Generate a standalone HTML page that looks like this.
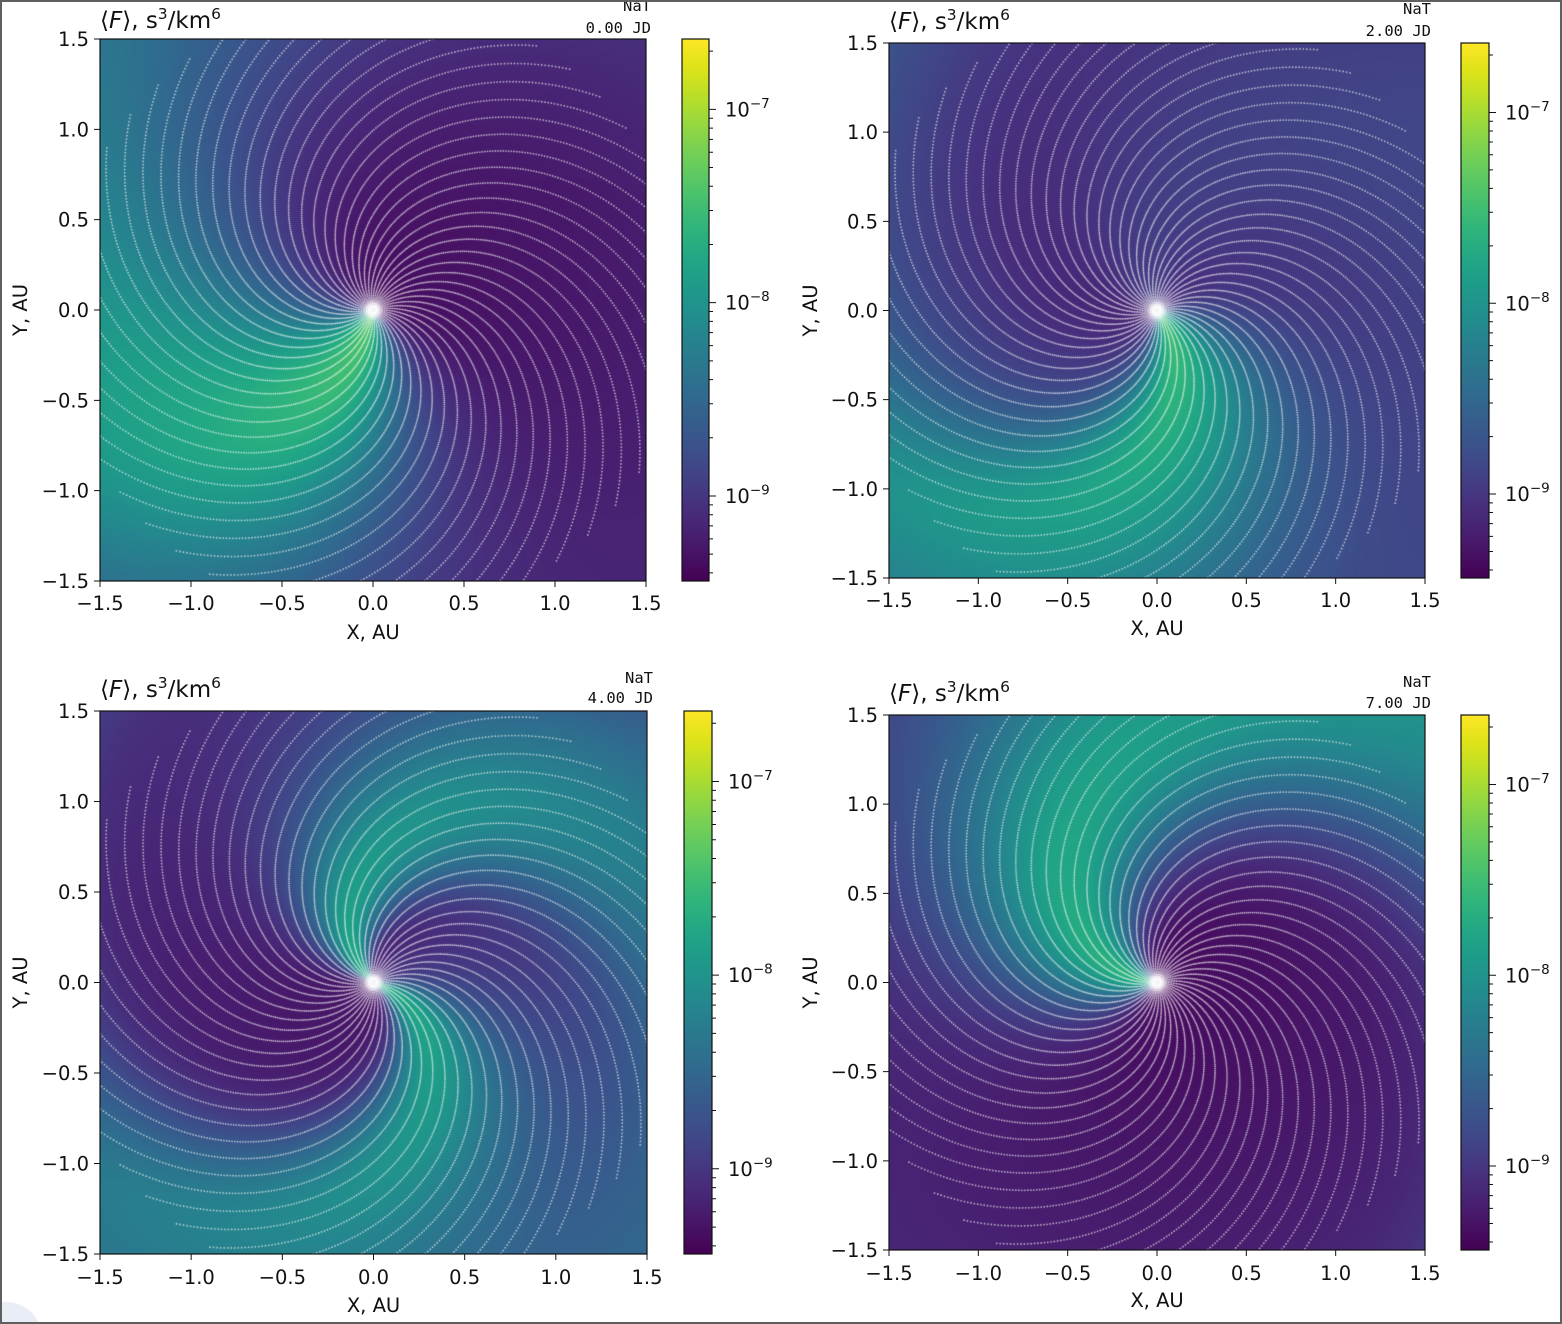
<!DOCTYPE html>
<html><head><meta charset="utf-8">
<style>
html,body{margin:0;padding:0;background:#fff;}
#wrap{position:relative;width:1562px;height:1324px;overflow:hidden;background:#fff;}
canvas{position:absolute;}
svg{position:absolute;left:0;top:0;}
.t{font-family:"DejaVu Sans","Liberation Sans",sans-serif;font-size:19.5px;fill:#111;}
.ti{font-family:"DejaVu Sans","Liberation Sans",sans-serif;font-size:23px;fill:#111;}
.m{font-family:"DejaVu Sans Mono","Liberation Mono",monospace;font-size:15.5px;fill:#111;}
</style></head><body><div id="wrap">
<canvas id="c1" width="546" height="542" style="left:100px;top:39px"></canvas>
<canvas id="c2" width="536" height="535" style="left:889px;top:43px"></canvas>
<canvas id="c3" width="547" height="543" style="left:100px;top:711px"></canvas>
<canvas id="c4" width="536" height="535" style="left:889px;top:715px"></canvas>
<svg width="1562" height="1324" viewBox="0 0 1562 1324">
<defs>
<linearGradient id="vir" x1="0" y1="1" x2="0" y2="0">
<stop offset="0" stop-color="#440154"/><stop offset="0.05" stop-color="#471365"/><stop offset="0.1" stop-color="#482475"/><stop offset="0.15" stop-color="#463480"/><stop offset="0.2" stop-color="#414487"/><stop offset="0.25" stop-color="#3b528b"/><stop offset="0.3" stop-color="#355f8d"/><stop offset="0.35" stop-color="#2f6c8e"/><stop offset="0.4" stop-color="#2a788e"/><stop offset="0.45" stop-color="#25848e"/><stop offset="0.5" stop-color="#21918c"/><stop offset="0.55" stop-color="#1e9c89"/><stop offset="0.6" stop-color="#22a884"/><stop offset="0.65" stop-color="#2fb47c"/><stop offset="0.7" stop-color="#44bf70"/><stop offset="0.75" stop-color="#5ec962"/><stop offset="0.8" stop-color="#7ad151"/><stop offset="0.85" stop-color="#9bd93c"/><stop offset="0.9" stop-color="#bddf26"/><stop offset="0.95" stop-color="#dfe318"/><stop offset="1" stop-color="#fde725"/>
</linearGradient>
<path id="cbt" vector-effect="non-scaling-stroke" d="M0 36.4H7M0 136.4H7M0 236.4H7M0 6.3H4M0 106.3H4M0 88.7H4M0 76.2H4M0 66.5H4M0 58.6H4M0 51.9H4M0 46.1H4M0 41H4M0 206.3H4M0 188.7H4M0 176.2H4M0 166.5H4M0 158.6H4M0 151.9H4M0 146.1H4M0 141H4M0 276.2H4M0 266.5H4M0 258.6H4M0 251.9H4M0 246.1H4M0 241H4"/>
</defs>
<circle cx="6" cy="1338" r="36" fill="#e9edf6"/>

<!-- Panel 1 -->
<rect x="100" y="39" width="546" height="542" fill="none" stroke="#111" stroke-width="1.2"/>
<rect x="682" y="39" width="27" height="542" fill="url(#vir)" stroke="#111" stroke-width="1.2"/>
<g stroke="#111" stroke-width="1" fill="none">
<path d="M94 39H100M94 129.33H100M94 219.67H100M94 310H100M94 400.33H100M94 490.67H100M94 581H100M100 581V587M191 581V587M282 581V587M373 581V587M464 581V587M555 581V587M646 581V587"/>
<use href="#cbt" transform="translate(709,39) scale(1,1.933)"/>
</g>
<text class="ti" x="100" y="28">⟨<tspan font-style="italic">F</tspan>⟩, s<tspan dy="-9" font-size="15.5">3</tspan><tspan dy="9">/km</tspan><tspan dy="-9" font-size="15.5">6</tspan></text>
<text class="m" x="651" y="11" text-anchor="end">NaT</text>
<text class="m" x="651" y="33" text-anchor="end">0.00 JD</text>
<g text-anchor="end">
<text class="t" x="89" y="46">1.5</text><text class="t" x="89" y="136.3">1.0</text><text class="t" x="89" y="226.7">0.5</text><text class="t" x="89" y="317">0.0</text><text class="t" x="89" y="407.3">−0.5</text><text class="t" x="89" y="497.7">−1.0</text><text class="t" x="89" y="588">−1.5</text>
</g>
<g text-anchor="middle">
<text class="t" x="100" y="610">−1.5</text><text class="t" x="191" y="610">−1.0</text><text class="t" x="282" y="610">−0.5</text><text class="t" x="373" y="610">0.0</text><text class="t" x="464" y="610">0.5</text><text class="t" x="555" y="610">1.0</text><text class="t" x="646" y="610">1.5</text>
<text class="t" x="373" y="639">X, AU</text>
<text class="t" transform="translate(27,310) rotate(-90)">Y, AU</text>
</g>
<text class="t" x="725" y="116.4">10<tspan dy="-8.5" font-size="13.5">−7</tspan></text>
<text class="t" x="725" y="309.7">10<tspan dy="-8.5" font-size="13.5">−8</tspan></text>
<text class="t" x="725" y="503">10<tspan dy="-8.5" font-size="13.5">−9</tspan></text>

<!-- Panel 2 -->
<rect x="889" y="43" width="536" height="535" fill="none" stroke="#111" stroke-width="1.2"/>
<rect x="1461" y="43" width="28" height="535" fill="url(#vir)" stroke="#111" stroke-width="1.2"/>
<g stroke="#111" stroke-width="1" fill="none">
<path d="M883 43H889M883 132.17H889M883 221.33H889M883 310.5H889M883 399.67H889M883 488.83H889M883 578H889M889 578V584M978.33 578V584M1067.67 578V584M1157 578V584M1246.33 578V584M1335.67 578V584M1425 578V584"/>
<use href="#cbt" transform="translate(1489,43) scale(1,1.908)"/>
</g>
<text class="ti" x="889" y="29">⟨<tspan font-style="italic">F</tspan>⟩, s<tspan dy="-9" font-size="15.5">3</tspan><tspan dy="9">/km</tspan><tspan dy="-9" font-size="15.5">6</tspan></text>
<text class="m" x="1431" y="14" text-anchor="end">NaT</text>
<text class="m" x="1431" y="36" text-anchor="end">2.00 JD</text>
<g text-anchor="end">
<text class="t" x="878" y="50">1.5</text><text class="t" x="878" y="139.2">1.0</text><text class="t" x="878" y="228.3">0.5</text><text class="t" x="878" y="317.5">0.0</text><text class="t" x="878" y="406.7">−0.5</text><text class="t" x="878" y="495.8">−1.0</text><text class="t" x="878" y="585">−1.5</text>
</g>
<g text-anchor="middle">
<text class="t" x="889" y="607">−1.5</text><text class="t" x="978.33" y="607">−1.0</text><text class="t" x="1067.67" y="607">−0.5</text><text class="t" x="1157" y="607">0.0</text><text class="t" x="1246.33" y="607">0.5</text><text class="t" x="1335.67" y="607">1.0</text><text class="t" x="1425" y="607">1.5</text>
<text class="t" x="1157" y="635">X, AU</text>
<text class="t" transform="translate(817,310.5) rotate(-90)">Y, AU</text>
</g>
<text class="t" x="1505" y="119.5">10<tspan dy="-8.5" font-size="13.5">−7</tspan></text>
<text class="t" x="1505" y="310.3">10<tspan dy="-8.5" font-size="13.5">−8</tspan></text>
<text class="t" x="1505" y="501.1">10<tspan dy="-8.5" font-size="13.5">−9</tspan></text>

<!-- Panel 3 -->
<rect x="100" y="711" width="547" height="543" fill="none" stroke="#111" stroke-width="1.2"/>
<rect x="684" y="711" width="28" height="543" fill="url(#vir)" stroke="#111" stroke-width="1.2"/>
<g stroke="#111" stroke-width="1" fill="none">
<path d="M94 711H100M94 801.5H100M94 892H100M94 982.5H100M94 1073H100M94 1163.5H100M94 1254H100M100 1254V1260M191.17 1254V1260M282.33 1254V1260M373.5 1254V1260M464.67 1254V1260M555.83 1254V1260M647 1254V1260"/>
<use href="#cbt" transform="translate(712,711) scale(1,1.9365)"/>
</g>
<text class="ti" x="100" y="697">⟨<tspan font-style="italic">F</tspan>⟩, s<tspan dy="-9" font-size="15.5">3</tspan><tspan dy="9">/km</tspan><tspan dy="-9" font-size="15.5">6</tspan></text>
<text class="m" x="653" y="683" text-anchor="end">NaT</text>
<text class="m" x="653" y="703" text-anchor="end">4.00 JD</text>
<g text-anchor="end">
<text class="t" x="89" y="718">1.5</text><text class="t" x="89" y="808.5">1.0</text><text class="t" x="89" y="899">0.5</text><text class="t" x="89" y="989.5">0.0</text><text class="t" x="89" y="1080">−0.5</text><text class="t" x="89" y="1170.5">−1.0</text><text class="t" x="89" y="1261">−1.5</text>
</g>
<g text-anchor="middle">
<text class="t" x="100" y="1284">−1.5</text><text class="t" x="191.17" y="1284">−1.0</text><text class="t" x="282.33" y="1284">−0.5</text><text class="t" x="373.5" y="1284">0.0</text><text class="t" x="464.67" y="1284">0.5</text><text class="t" x="555.83" y="1284">1.0</text><text class="t" x="647" y="1284">1.5</text>
<text class="t" x="373.5" y="1312">X, AU</text>
<text class="t" transform="translate(27,982.5) rotate(-90)">Y, AU</text>
</g>
<text class="t" x="728" y="788.5">10<tspan dy="-8.5" font-size="13.5">−7</tspan></text>
<text class="t" x="728" y="982.1">10<tspan dy="-8.5" font-size="13.5">−8</tspan></text>
<text class="t" x="728" y="1175.8">10<tspan dy="-8.5" font-size="13.5">−9</tspan></text>

<!-- Panel 4 -->
<rect x="889" y="715" width="536" height="535" fill="none" stroke="#111" stroke-width="1.2"/>
<rect x="1461" y="715" width="28" height="535" fill="url(#vir)" stroke="#111" stroke-width="1.2"/>
<g stroke="#111" stroke-width="1" fill="none">
<path d="M883 715H889M883 804.17H889M883 893.33H889M883 982.5H889M883 1071.67H889M883 1160.83H889M883 1250H889M889 1250V1256M978.33 1250V1256M1067.67 1250V1256M1157 1250V1256M1246.33 1250V1256M1335.67 1250V1256M1425 1250V1256"/>
<use href="#cbt" transform="translate(1489,715) scale(1,1.908)"/>
</g>
<text class="ti" x="889" y="701">⟨<tspan font-style="italic">F</tspan>⟩, s<tspan dy="-9" font-size="15.5">3</tspan><tspan dy="9">/km</tspan><tspan dy="-9" font-size="15.5">6</tspan></text>
<text class="m" x="1431" y="687" text-anchor="end">NaT</text>
<text class="m" x="1431" y="708" text-anchor="end">7.00 JD</text>
<g text-anchor="end">
<text class="t" x="878" y="722">1.5</text><text class="t" x="878" y="811.2">1.0</text><text class="t" x="878" y="900.3">0.5</text><text class="t" x="878" y="989.5">0.0</text><text class="t" x="878" y="1078.7">−0.5</text><text class="t" x="878" y="1167.8">−1.0</text><text class="t" x="878" y="1257">−1.5</text>
</g>
<g text-anchor="middle">
<text class="t" x="889" y="1280">−1.5</text><text class="t" x="978.33" y="1280">−1.0</text><text class="t" x="1067.67" y="1280">−0.5</text><text class="t" x="1157" y="1280">0.0</text><text class="t" x="1246.33" y="1280">0.5</text><text class="t" x="1335.67" y="1280">1.0</text><text class="t" x="1425" y="1280">1.5</text>
<text class="t" x="1157" y="1307">X, AU</text>
<text class="t" transform="translate(817,982.5) rotate(-90)">Y, AU</text>
</g>
<text class="t" x="1505" y="791.5">10<tspan dy="-8.5" font-size="13.5">−7</tspan></text>
<text class="t" x="1505" y="982.3">10<tspan dy="-8.5" font-size="13.5">−8</tspan></text>
<text class="t" x="1505" y="1173.1">10<tspan dy="-8.5" font-size="13.5">−9</tspan></text>

<rect x="1" y="1" width="1560" height="1322" fill="none" stroke="#5f5f5f" stroke-width="2"/>
</svg>
</div>
<script>
(function(){
var R2D=180/Math.PI,D2R=Math.PI/180;
var V=[[68,1,84],[71,19,101],[72,36,117],[70,52,128],[65,68,135],[59,82,139],[53,95,141],[47,108,142],[42,120,142],[37,132,142],[33,145,140],[30,156,137],[34,168,132],[47,180,124],[68,191,112],[94,201,98],[122,209,81],[155,217,60],[189,223,38],[223,227,24],[253,231,37]];
function vir(t,o){if(t<0)t=0;if(t>1)t=1;var f=t*20,i=Math.floor(f);if(i>19)i=19;var u=f-i,a=V[i],b=V[i+1];o[0]=a[0]+(b[0]-a[0])*u;o[1]=a[1]+(b[1]-a[1])*u;o[2]=a[2]+(b[2]-a[2])*u;}
var P=[
{id:'c1',b0:0.03,b1:0.03,arms:[{c:-102,b:1.7,A:0.7,k:0.2,sp:33,spr:6,sn:50,snr:8}]},
{id:'c2',b0:0.05,b1:0.02,arms:[{c:-56,b:1.22,A:0.64,k:0.2,sp:40,spr:8,sn:25,snr:3},{c:110,b:1.22,A:0.12,k:0,sp:50,spr:0,sn:50,snr:0},{c:-122,b:1.22,A:0.06,k:-0.5,sp:30,spr:0,sn:30,snr:0}]},
{id:'c3',b0:0.05,b1:0.03,arms:[{c:135,b:0.9,A:0.56,k:0.25,sp:18,spr:15,sn:18,snr:15},{c:-20,b:0.9,A:0.56,k:0.25,sp:18,spr:15,sn:18,snr:10},{c:40,b:0.9,A:0.08,k:0,sp:30,spr:0,sn:30,snr:0}]},
{id:'c4',b0:0.02,b1:0.04,arms:[{c:175,b:1.0,A:0.63,k:0.17,sp:30,spr:10,sn:29,snr:9}]}
];
var col=[0,0,0];
P.forEach(function(cfg){
var cv=document.getElementById(cfg.id);if(!cv||!cv.getContext)return;
var W=cv.width,H=cv.height,ctx=cv.getContext('2d');
var img=ctx.createImageData(W,H),d=img.data,p=0;
for(var j=0;j<H;j++){var y=1.5-(j+0.5)/H*3;
for(var i=0;i<W;i++){var x=-1.5+(i+0.5)/W*3;
var r=Math.sqrt(x*x+y*y),ph=Math.atan2(y,x)*R2D,t=cfg.b0+cfg.b1*r;
for(var a=0;a<cfg.arms.length;a++){var A=cfg.arms[a];
var dd=ph+r/A.b*R2D-A.c;dd=((dd%360)+540)%360-180;
var sg=dd>0?(A.sp+A.spr*r):(A.sn+A.snr*r);
t+=A.A*Math.max(0,1-A.k*r)*Math.exp(-dd*dd/(2*sg*sg));}
vir(t,col);d[p]=col[0];d[p+1]=col[1];d[p+2]=col[2];d[p+3]=255;p+=4;}}
ctx.putImageData(img,0,0);
/* spiral field lines */
var bL=0.89,rEnd=1.72,tot=rEnd/bL,dp=0.0102,n=Math.round(tot/dp);
ctx.fillStyle='rgba(255,255,255,0.66)';
for(var k=0;k<48;k++){var pe=(140.7-7.5*k)*D2R,p0=pe+tot;
for(var s=2;s<=n;s++){var q=p0-s*dp,rr=bL*(p0-q);
var px=(rr*Math.cos(q)+1.5)/3*W,py=(1.5-rr*Math.sin(q))/3*H;
ctx.beginPath();ctx.arc(px,py,0.88,0,6.2832);ctx.fill();}}
/* center glow */
var cx=W/2,cy=H/2,g=ctx.createRadialGradient(cx,cy,0,cx,cy,10);
g.addColorStop(0,'rgba(255,255,255,1)');g.addColorStop(0.35,'rgba(255,255,255,0.85)');g.addColorStop(1,'rgba(255,255,255,0)');
ctx.fillStyle=g;ctx.fillRect(cx-11,cy-11,22,22);
});
})();
</script>
</body></html>
